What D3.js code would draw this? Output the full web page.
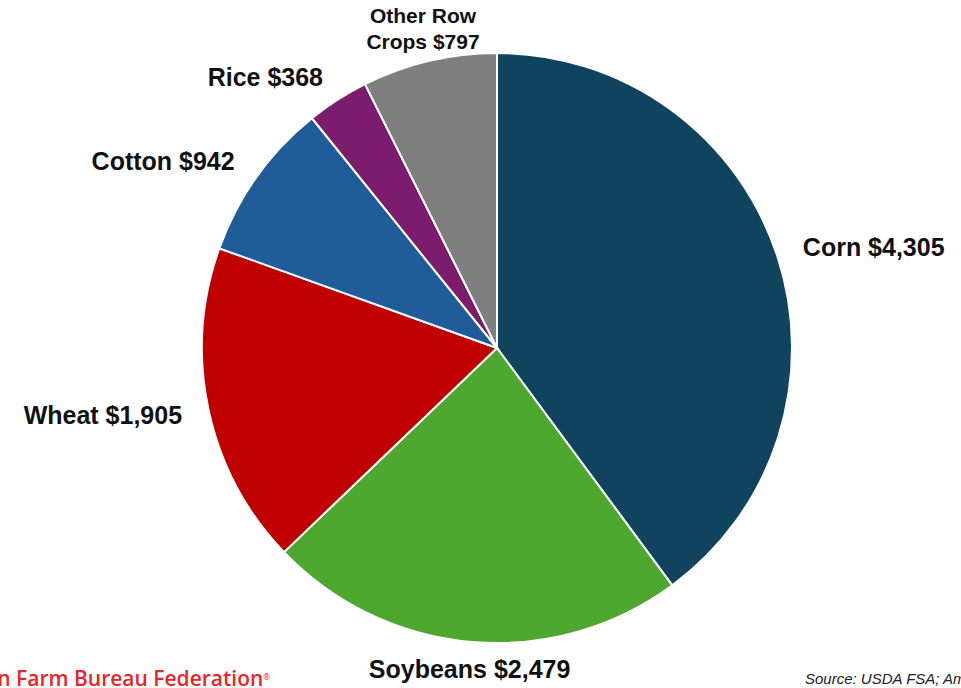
<!doctype html>
<html>
  <head>
    <script src="https://d3js.org/d3.v7.min.js"></script>
    <style>
      body { margin: 0; background: #fff; }
      text { font-family: "Liberation Sans", Arial, sans-serif; }
      .lbl { font-weight: 700; fill: #111; }
    </style>
  </head>
  <body>
    <div id="chart"></div>
    <script>
      // crop names and values (millions $)
      var crops = ["Corn", "Soybeans", "Wheat", "Cotton", "Rice", "Other Row Crops"];
      var values = [4305, 2479, 1905, 942, 368, 797];
      var colors = ["#10445e", "#4ea72e", "#c00000", "#1f5c99", "#7b1c6d", "#7f7f7f"];

      var width = 961, height = 688;
      var cx = 497, cy = 348, radius = 295;

      var svg = d3.select("#chart").append("svg")
        .attr("width", width)
        .attr("height", height);

      var pie = d3.pie().sort(null).value(function(d){ return d; });
      var arcs = pie(values);

      var arc = d3.arc().innerRadius(0).outerRadius(radius);

      var g = svg.append("g").attr("transform", "translate(" + cx + "," + cy + ")");

      g.selectAll("path")
        .data(arcs)
        .enter()
        .append("path")
        .attr("d", arc)
        .attr("fill", function(d, i){ return colors[i]; })
        .attr("stroke", "#fff")
        .attr("stroke-width", 2);

      var fmt = d3.format(",");
      var labelR = 322;

      // labels
      arcs.forEach(function(d, i) {
        var a = (d.startAngle + d.endAngle) / 2;
        var x = labelR * Math.sin(a), y = -labelR * Math.cos(a);
        var s = Math.sin(a);
        var anchor = s > 0.3 ? "start" : (s < -0.3 ? "end" : "middle");
        var t = g.append("text")
          .attr("class", "lbl")
          .attr("text-anchor", anchor)
          .attr("x", x)
          .attr("y", y);
        if (crops[i] == "Other Row Crops") {
          t.style("font-size", "21px");
          t.append("tspan").attr("x", x).attr("dy", "-0.55em").text("Other Row");
          t.append("tspan").attr("x", x).attr("dy", "1.22em").text("Crops $" + fmt(values[i]));
        } else {
          t.style("font-size", "25px")
            .attr("dy", "0.36em")
            .text(crops[i] + " $" + fmt(values[i]));
        }
      });

      // footer
      var brand = svg.append("text")
        .attr("x", 270)
        .attr("y", 686)
        .attr("text-anchor", "end")
        .style("font-family", "'Open Sans', sans-serif")
        .style("font-weight", 600)
        .style("font-size", "21px")
        .style("fill", "#e8262a");
      brand.append("tspan").text("American Farm Bureau Federation");
      brand.append("tspan").attr("dy", "-0.7em").style("font-size", "8px").text("®");

      svg.append("text")
        .attr("x", 805)
        .attr("y", 684)
        .style("font-size", "15px")
        .style("font-style", "italic")
        .style("fill", "#222")
        .text("Source: USDA FSA; American Farm Bureau Federation");
    </script>
  </body>
</html>
